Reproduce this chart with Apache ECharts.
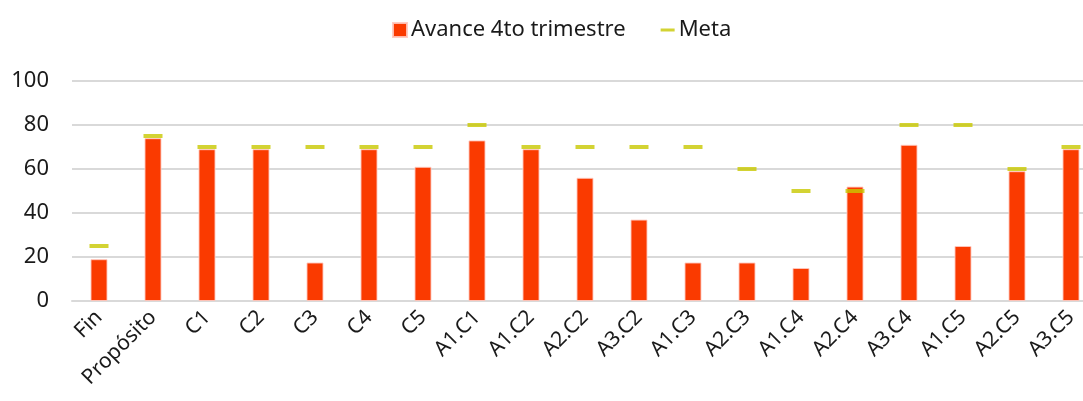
<!DOCTYPE html>
<html>
<head>
<meta charset="utf-8">
<script src="https://cdn.jsdelivr.net/npm/echarts@6/dist/echarts.min.js"></script>
<style>
  html, body { margin: 0; padding: 0; background: #fff; overflow: hidden; }
  /* plot area runs slightly past the right edge of the page */
  #chart { width: 1098px; height: 401px; }
</style>
</head>
<body>
<div id="chart"></div>
<script>
// Indicator labels along the category axis
const categories = ['Fin', 'Propósito', 'C1', 'C2', 'C3', 'C4', 'C5', 'A1.C1', 'A1.C2', 'A2.C2',
  'A3.C2', 'A1.C3', 'A2.C3', 'A1.C4', 'A2.C4', 'A3.C4', 'A1.C5', 'A2.C5', 'A3.C5'];

// Progress reached at the end of the fourth quarter (%)
const avance = [19, 74, 69, 69, 17.5, 69, 61, 73, 69, 56, 37, 17.5, 17.5, 15, 52, 71, 25, 59, 69];

// Target for each indicator (%)
const meta = [25, 75, 70, 70, 70, 70, 70, 80, 70, 70, 70, 70, 60, 50, 50, 80, 80, 60, 70];

// Value axis ticks
const yTicks = [0, 20, 40, 60, 80, 100];

const FONT = '"Noto Sans", "Open Sans", sans-serif';
const TEXT = '#1a1a1a';
const BAR = '#FA3A00';
const GOAL = '#C8C800';

const chart = echarts.init(document.getElementById('chart'), null, { renderer: 'canvas' });

chart.setOption({
  animation: false,
  textStyle: { fontFamily: FONT, color: TEXT },
  legend: {
    left: 387,
    top: 14,
    itemWidth: 14,
    itemHeight: 14,
    itemGap: 35,
    textStyle: { fontFamily: FONT, fontSize: 22, color: TEXT, padding: [0, 0, 0, -1] },
    data: [
      { name: 'Avance 4to trimestre', icon: 'rect' },
      // thin dash marker, padded with tiny corners to keep a 14x14 box
      { name: 'Meta', icon: 'path://M0,0 L0.05,0 L0,0.05 Z M0,5.5 L14,5.5 L14,8.5 L0,8.5 Z M14,14 L13.95,14 L14,13.95 Z' }
    ]
  },
  grid: {
    left: 72,
    top: 81,
    right: 0,
    height: 220,
    containLabel: false
  },
  xAxis: {
    type: 'category',
    data: categories,
    axisTick: { show: false },
    axisLine: { lineStyle: { color: '#D9D9D9', width: 2 } },
    axisLabel: {
      rotate: 45,
      margin: 13,
      interval: 0,
      fontFamily: FONT,
      fontSize: 21,
      color: TEXT
    }
  },
  yAxis: {
    type: 'value',
    min: yTicks[0],
    max: yTicks[yTicks.length - 1],
    interval: yTicks[1] - yTicks[0],
    axisLine: { show: false },
    axisTick: { show: false },
    axisLabel: { fontFamily: FONT, fontSize: 22, color: TEXT, margin: 23 },
    splitLine: { lineStyle: { color: '#D9D9D9', width: 2 } }
  },
  series: [
    {
      name: 'Avance 4to trimestre',
      type: 'bar',
      data: avance,
      barWidth: 17,
      itemStyle: { color: BAR, borderColor: 'rgba(255,200,190,0.9)', borderWidth: 1 },
      z: 2
    },
    {
      name: 'Meta',
      type: 'scatter',
      data: meta,
      symbol: 'rect',
      symbolSize: [19, 4],
      itemStyle: { color: GOAL },
      z: 3
    }
  ]
});
</script>
</body>
</html>
